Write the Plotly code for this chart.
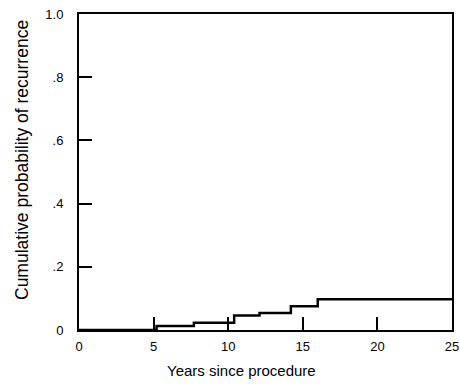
import plotly.graph_objects as go

years = [0, 5.2, 7.7, 10.4, 12.1, 14.2, 16.0, 25]
prob = [0, 0.013, 0.023, 0.046, 0.054, 0.075, 0.097, 0.097]

x_ticks = [0, 5, 10, 15, 20, 25]
x_labels = ["0", "5", "10", "15", "20", "25"]
y_ticks = [0, 0.2, 0.4, 0.6, 0.8, 1.0]
y_labels = ["0", ".2", ".4", ".6", ".8", "1.0"]

fig = go.Figure()
fig.add_trace(go.Scatter(x=years, y=prob, mode="lines", line_shape="hv",
                         line=dict(color="black", width=2.5), showlegend=False))

font = "Liberation Sans, Arial, sans-serif"
fig.update_layout(
    width=460, height=392,
    margin=dict(l=79, r=8, t=14, b=62, autoexpand=False),
    paper_bgcolor="white", plot_bgcolor="white",
    font=dict(family=font, color="black"),
    xaxis=dict(range=[0, 25], tickvals=x_ticks, ticktext=x_labels, automargin=False,
               ticks="inside", ticklen=13, tickwidth=1.5, tickcolor="black",
               showline=True, linecolor="black", linewidth=2, mirror=True,
               showgrid=False, zeroline=False, tickfont=dict(size=13), ticklabelstandoff=3),
    yaxis=dict(range=[0, 1.0], tickvals=y_ticks, ticktext=y_labels, automargin=False,
               ticks="inside", ticklen=13, tickwidth=1.5, tickcolor="black",
               showline=True, linecolor="black", linewidth=2, mirror=True,
               showgrid=False, zeroline=False, tickfont=dict(size=13), ticklabelstandoff=11),
    annotations=[
        dict(text="Years since procedure", xref="paper", yref="paper",
             x=(241 - 79) / (452 - 79), y=-(370 - 330) / 316, showarrow=False,
             xanchor="center", yanchor="middle", font=dict(size=15)),
        dict(text="Cumulative probability of recurrence", xref="paper", yref="paper",
             x=-(79 - 22) / 373, y=(330 - 160) / 316, showarrow=False, textangle=-90,
             xanchor="center", yanchor="middle", font=dict(size=17.5)),
    ],
)

fig.write_html("out.html", config={"displayModeBar": False},
               post_script="document.body.style.margin='0';document.body.style.overflow='hidden';")
